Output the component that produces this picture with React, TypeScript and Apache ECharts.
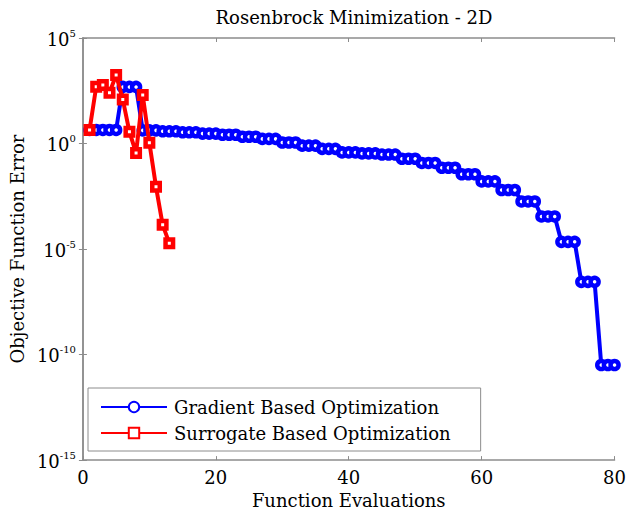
import React, { useEffect, useRef } from "react";
import * as echarts from "echarts";

// Objective function error per function evaluation (Rosenbrock, 2D)
const gradientEvals: number[] = Array.from({ length: 80 }, (_, i) => i + 1);
const gradientError: number[] = [
  4.4, 4.4, 4.4, 4.4, 4.4,
  480, 480, 480,
  4.2, 4.2, 4.2,
  3.8, 3.8, 3.8,
  3.4, 3.4, 3.4,
  2.95, 2.95, 2.95,
  2.6, 2.6, 2.6,
  2.1, 2.1, 2.1,
  1.66, 1.66, 1.66,
  1.12, 1.12, 1.12,
  0.79, 0.79, 0.79,
  0.56, 0.56, 0.56,
  0.38, 0.38, 0.38,
  0.34, 0.34, 0.34,
  0.3, 0.3, 0.3,
  0.19, 0.19, 0.19,
  0.12, 0.12, 0.12,
  0.071, 0.071, 0.071,
  0.035, 0.035, 0.035,
  0.016, 0.016, 0.016,
  0.0063, 0.0063, 0.0063,
  0.0018, 0.0018, 0.0018,
  3.5e-4, 3.5e-4, 3.5e-4,
  2.2e-5, 2.2e-5, 2.2e-5,
  2.8e-7, 2.8e-7, 2.8e-7,
  3.2e-11, 3.2e-11, 3.2e-11,
];

const surrogateEvals: number[] = [1, 2, 3, 4, 5, 6, 7, 8, 9, 10, 11, 12, 13];
const surrogateError: number[] = [
  4.4, 490, 590, 257, 1780, 123, 3.6, 0.36, 200, 1.1, 0.0089, 1.4e-4, 1.9e-5,
];

const xTicks: number[] = [0, 20, 40, 60, 80];
const yExponents: number[] = [-15, -10, -5, 0, 5];

const FONT = "DejaVu Serif";
const AXIS_GREY = "#8c8c8c";

export default function App() {
  const ref = useRef<HTMLDivElement>(null);

  useEffect(() => {
    if (!ref.current) return;
    const chart = echarts.init(ref.current, undefined, { renderer: "svg" });

    const pow10Label = (v: number) => {
      const e = Math.round(Math.log10(v));
      return `{b|10}{s|${e}}`;
    };

    const baseX = {
      type: "value" as const,
      min: xTicks[0],
      max: xTicks[xTicks.length - 1],
      interval: 20,
      splitLine: { show: false },
      axisLine: { show: true, onZero: false, lineStyle: { color: AXIS_GREY, width: 1.5 } },
      axisTick: { show: true, inside: true, length: 4, lineStyle: { color: AXIS_GREY } },
    };
    const baseY = {
      type: "log" as const,
      logBase: 10,
      min: Math.pow(10, yExponents[0]),
      max: Math.pow(10, yExponents[yExponents.length - 1]),
      interval: 5,
      splitLine: { show: false },
      minorTick: { show: false },
      axisLine: { show: true, lineStyle: { color: AXIS_GREY, width: 1.5 } },
      axisTick: { show: true, inside: true, length: 4, lineStyle: { color: AXIS_GREY } },
    };

    chart.setOption({
      animation: false,
      backgroundColor: "#ffffff",
      title: {
        text: "Rosenbrock Minimization - 2D",
        left: 349,
        textAlign: "center",
        top: 3,
        textStyle: { fontFamily: FONT, fontSize: 18, fontWeight: "normal", color: "#000" },
      },
      grid: { left: 81, right: 12, top: 38, bottom: 52 },
      legend: {
        orient: "vertical",
        left: 88,
        top: 388,
        backgroundColor: "#ffffff",
        borderColor: AXIS_GREY,
        borderWidth: 1,
        padding: [10, 30, 9, 12],
        itemGap: 8,
        itemWidth: 66,
        itemHeight: 13,
        textStyle: { fontFamily: FONT, fontSize: 18, color: "#000", padding: [0, 0, 0, 2] },
        data: ["Gradient Based Optimization", "Surrogate Based Optimization"],
      },
      xAxis: [
        {
          ...baseX,
          position: "bottom",
          name: "Function Evaluations",
          nameLocation: "middle",
          nameGap: 30,
          nameTextStyle: { fontFamily: FONT, fontSize: 18, color: "#000" },
          axisLabel: { fontFamily: FONT, fontSize: 18, color: "#000", margin: 8 },
        },
        { ...baseX, position: "top", axisLabel: { show: false } },
      ],
      yAxis: [
        {
          ...baseY,
          position: "left",
          name: "Objective Function Error",
          nameLocation: "middle",
          nameGap: 52,
          nameTextStyle: { fontFamily: FONT, fontSize: 18, color: "#000" },
          axisLabel: {
            margin: 7,
            formatter: pow10Label,
            rich: {
              b: { fontFamily: FONT, fontSize: 18, color: "#000", lineHeight: 20, verticalAlign: "bottom" },
              s: { fontFamily: FONT, fontSize: 10, color: "#000", lineHeight: 10, verticalAlign: "top" },
            },
          },
        },
        { ...baseY, position: "right", axisLabel: { show: false } },
      ],
      series: [
        {
          name: "Gradient Based Optimization",
          type: "line",
          xAxisIndex: 0,
          yAxisIndex: 0,
          data: gradientEvals.map((x, i) => [x, gradientError[i]]),
          symbol: "circle",
          symbolSize: 8,
          lineStyle: { color: "#0000ff", width: 4 },
          itemStyle: { color: "#ffffff", borderColor: "#0000ff", borderWidth: 4.5 },
          z: 2,
        },
        {
          name: "Surrogate Based Optimization",
          type: "line",
          xAxisIndex: 0,
          yAxisIndex: 0,
          data: surrogateEvals.map((x, i) => [x, surrogateError[i]]),
          symbol: "rect",
          symbolSize: 7.5,
          lineStyle: { color: "#ff0000", width: 4 },
          itemStyle: { color: "#ffffff", borderColor: "#ff0000", borderWidth: 4.5 },
          z: 3,
        },
      ],
    });

    return () => chart.dispose();
  }, []);

  return (
    <div
      ref={ref}
      style={{ position: "fixed", left: 0, top: 0, width: 629, height: 514 }}
    />
  );
}
